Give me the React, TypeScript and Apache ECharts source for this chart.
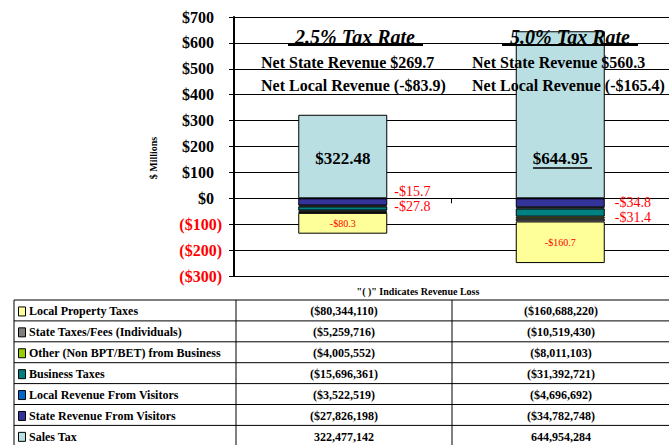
import React, { useEffect, useRef } from "react";
import * as echarts from "echarts";

const FONT = '"Liberation Serif", "Times New Roman", Times, serif';

const categories = ["2.5% Tax Rate", "5.0% Tax Rate"];
const seriesNames = [
  "Local Property Taxes",
  "State Taxes/Fees (Individuals)",
  "Other (Non BPT/BET) from Business",
  "Business Taxes",
  "Local Revenue From Visitors",
  "State Revenue From Visitors",
  "Sales Tax",
];
const values25 = [-80344110, -5259716, -4005552, -15696361, -3522519, -27826198, 322477142];
const values50 = [-160688220, -10519430, -8011103, -31392721, -4696692, -34782748, 644954284];
const colors = ["#FFFF99", "#808080", "#99CC00", "#008080", "#0066CC", "#333399", "#BADFE3"];
const yTicks = [-300, -200, -100, 0, 100, 200, 300, 400, 500, 600, 700];
const netState = ["Net State Revenue $269.7", "Net State Revenue $560.3"];
const netLocal = ["Net Local Revenue (-$83.9)", "Net Local Revenue (-$165.4)"];

const fmtTable = (v: number) => {
  const s = Math.abs(v).toLocaleString("en-US");
  return v < 0 ? `($${s})` : s;
};

function labelFor(si: number, ci: number, v: number): any {
  const m = v / 1e6;
  const red = { show: true, color: "#FF0000", fontFamily: FONT, fontSize: 14, position: "right", lineHeight: 12 };
  if (si === 6) {
    return {
      show: true,
      position: "insideBottom",
      distance: 31,
      formatter: `$${m.toFixed(2)}`,
      color: "#000",
      fontFamily: FONT,
      fontWeight: "bold",
      fontSize: 17,
    };
  }
  if (si === 0) {
    return {
      show: true,
      position: "inside",
      formatter: `-$${Math.abs(m).toFixed(1)}`,
      color: "#FF0000",
      fontFamily: FONT,
      fontSize: 10,
    };
  }
  if (si === 3) {
    return { ...red, formatter: `-$${Math.abs(m).toFixed(1)}`, distance: ci === 0 ? 7 : 10, offset: [0, ci === 0 ? -16.5 : 5] };
  }
  if (si === 5) {
    return { ...red, formatter: `-$${Math.abs(m).toFixed(1)}`, distance: ci === 0 ? 7 : 10, offset: [0, ci === 0 ? 4.5 : 0] };
  }
  return { show: false };
}

export default function App() {
  const ref = useRef<HTMLDivElement>(null);
  useEffect(() => {
    if (!ref.current) return;
    const chart = echarts.init(ref.current, undefined, { renderer: "svg" });

    const series: any[] = [];
    for (let si = seriesNames.length - 1; si >= 0; si--) {
      series.push({
        type: "bar",
        name: seriesNames[si],
        stack: "total",
        barWidth: 89,
        itemStyle: { color: colors[si], borderColor: "#000", borderWidth: 1 },
        data: [values25[si], values50[si]].map((v, ci) => ({
          value: v / 1e6,
          label: labelFor(si, ci, v),
        })),
      });
    }

    const txt = (x: number, y: number, text: string, font: string, align = "left", fill = "#000", extra: any = {}) => ({
      type: "text",
      x,
      y,
      silent: true,
      z: 100,
      ...extra,
      style: { text, font, fill, align, textAlign: align, verticalAlign: "middle", textVerticalAlign: "middle" },
    });
    const line = (x1: number, y1: number, x2: number, y2: number, w = 1, color = "#000") => ({
      type: "line",
      silent: true,
      z: 100,
      shape: { x1, y1, x2, y2 },
      style: { stroke: color, lineWidth: w },
    });

    const g: any[] = [];
    const titleX = [355, 570];
    const titleU = [[288, 423], [502, 638]];
    categories.forEach((c, i) => {
      g.push(txt(titleX[i], 37, c, `italic bold 20px ${FONT}`, "center"));
      g.push(line(titleU[i][0], 45, titleU[i][1], 45, 2));
    });
    const netX = [261, 472];
    netState.forEach((t, i) => g.push(txt(netX[i], 62, t, `bold 16px ${FONT}`)));
    netLocal.forEach((t, i) => g.push(txt(netX[i], 85, t, `bold 16px ${FONT}`)));
    g.push(line(533, 168, 592, 168, 1.5));
    g.push(txt(153, 158, "$ Millions", `bold 10px ${FONT}`, "center", "#000", { rotation: Math.PI / 2 }));
    g.push(txt(418, 291, '"( )" Indicates Revenue Loss', `bold 10px ${FONT}`, "center"));

    const tTop = 300;
    const rowH = 20.9;
    const colX = [14, 236, 452, 669];
    for (let i = 0; i <= seriesNames.length; i++) {
      g.push(line(colX[0], tTop + i * rowH, 669, tTop + i * rowH, 1));
    }
    colX.slice(0, 3).forEach((x) => g.push(line(x, tTop, x, 445, 1)));
    seriesNames.forEach((n, i) => {
      const cy = tTop + i * rowH + rowH / 2 + 1;
      g.push({
        type: "rect",
        silent: true,
        z: 100,
        shape: { x: 18.5, y: cy - 4.5, width: 7, height: 9 },
        style: { fill: colors[i], stroke: "#000", lineWidth: 1 },
      });
      g.push(txt(29, cy, n, `bold 12px ${FONT}`));
      g.push(txt((colX[1] + colX[2]) / 2, cy, fmtTable(values25[i]), `bold 12px ${FONT}`, "center"));
      g.push(txt((colX[2] + colX[3]) / 2 + 0.5, cy, fmtTable(values50[i]), `bold 12px ${FONT}`, "center"));
    });

    chart.setOption({
      animation: false,
      backgroundColor: "#fff",
      grid: { left: 234, top: 17, width: 436, height: 259 },
      xAxis: {
        type: "category",
        data: categories,
        axisLabel: { show: false },
        axisLine: { onZero: true, lineStyle: { color: "#000", width: 1 } },
        axisTick: { show: true, length: 5, lineStyle: { color: "#000" } },
        splitLine: { show: false },
      },
      yAxis: {
        type: "value",
        min: yTicks[0],
        max: yTicks[yTicks.length - 1],
        interval: 100,
        axisLine: { show: true, lineStyle: { color: "#000", width: 2 } },
        axisTick: { show: true, length: 5, lineStyle: { color: "#000" } },
        splitLine: { show: true, lineStyle: { color: "#000", width: 1 } },
        axisLabel: {
          margin: 12,
          formatter: (v: number) => (v < 0 ? `{neg|($${-v})}` : `{pos|$${v}}`),
          rich: {
            pos: { color: "#000", fontFamily: FONT, fontWeight: "bold", fontSize: 16, padding: [0, 8, 0, 0] },
            neg: { color: "#FF0000", fontFamily: FONT, fontWeight: "bold", fontSize: 16 },
          },
        },
      },
      series,
      graphic: { elements: g },
    });
    return () => chart.dispose();
  }, []);
  return (
    <div
      ref={ref}
      style={{ position: "fixed", left: 0, top: 0, width: 669, height: 445, background: "#fff" }}
    />
  );
}
